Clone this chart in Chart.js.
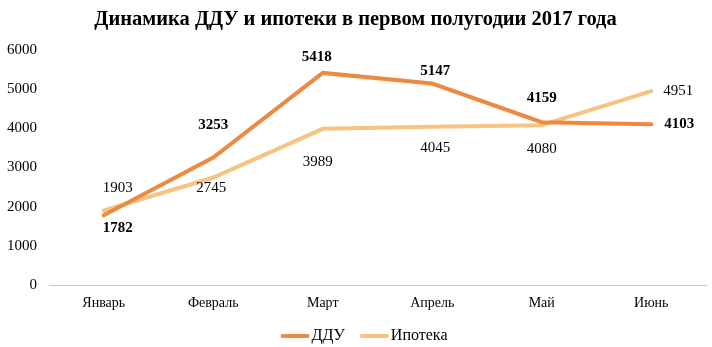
<!DOCTYPE html>
<html>
<head>
<meta charset="utf-8">
<script src="https://cdn.jsdelivr.net/npm/chart.js@4"></script>
<style>
html,body{margin:0;padding:0;background:#fff}
#wrap{width:712px;height:347px}
</style>
</head>
<body>
<div id="wrap"><canvas id="chart"></canvas></div>
<script>
const months = ["Январь","Февраль","Март","Апрель","Май","Июнь"]
const dduValues = [1782,3253,5418,5147,4159,4103]
const mortgageValues = [1903,2745,3989,4045,4080,4951]
const yTicks = [0,1000,2000,3000,4000,5000,6000]

// label offsets from each point (dx, dy), like the manual placement in the original
const dduLabelShift = [[14,13],[0,-33],[-6,-16],[3,-12],[0,-24],[28,0]]
const mortgageLabelShift = [[14,-22],[-2,11],[-5,33],[3,21],[0,24],[27,0]]

const serif = "'Liberation Serif','Times New Roman',serif"

const pointLabels = {
id:"pointLabels",
afterDatasetsDraw(chart){
const ctx = chart.ctx
chart.data.datasets.forEach((ds,i)=>{
const meta = chart.getDatasetMeta(i)
const shift = i===0 ? dduLabelShift : mortgageLabelShift
ctx.save()
ctx.font = (i===0 ? "bold " : "") + "15px " + serif
ctx.fillStyle = "#000"
ctx.textAlign = "center"
ctx.textBaseline = "middle"
meta.data.forEach((pt,j)=>{
ctx.fillText(ds.data[j], pt.x + shift[j][0], pt.y + shift[j][1])
})
ctx.restore()
})
}
}

// legend drawn by hand: line swatch right against the text, like Excel
const lineLegend = {
id:"lineLegend",
afterDraw(chart){
const ctx = chart.ctx
const sets = chart.data.datasets
const swatch = 29, gap = 2, spacing = 15, y = 336
ctx.save()
ctx.font = "16px " + serif
const widths = sets.map(ds=>swatch + gap + ctx.measureText(ds.label).width)
const total = widths.reduce((a,b)=>a+b,0) + spacing*(sets.length-1)
let x = 364 - total/2
sets.forEach((ds,i)=>{
ctx.strokeStyle = ds.borderColor
ctx.lineWidth = 4
ctx.lineCap = "round"
ctx.beginPath()
ctx.moveTo(x+2,y)
ctx.lineTo(x+swatch-2,y)
ctx.stroke()
ctx.fillStyle = "#000"
ctx.textAlign = "left"
ctx.textBaseline = "middle"
ctx.fillText(ds.label, x+swatch+gap, y)
x += widths[i] + spacing
})
ctx.restore()
}
}

new Chart(document.getElementById("chart"),{
type:"line",
data:{
labels:months,
datasets:[
{label:"ДДУ",data:dduValues,borderColor:"#ED8A41",backgroundColor:"#ED8A41",borderWidth:4,pointRadius:0,tension:0,borderCapStyle:"round"},
{label:"Ипотека",data:mortgageValues,borderColor:"#F5C382",backgroundColor:"#F5C382",borderWidth:4,pointRadius:0,tension:0,borderCapStyle:"round"}
]
},
options:{
responsive:true,
maintainAspectRatio:false,
animation:false,
layout:{padding:{top:7,right:6,left:5,bottom:24}},
plugins:{
title:{
display:true,
text:"Динамика ДДУ и ипотеки в первом полугодии 2017 года",
color:"#000",
font:{family:serif,size:20.5,weight:"bold"},
padding:{top:0,bottom:18.5}
},
legend:{display:false},
tooltip:{enabled:false}
},
scales:{
x:{
offset:true,
afterFit(scale){scale.height = 38},
grid:{display:false,drawTicks:false},
border:{display:true,color:"#c8c8c8",width:1},
ticks:{color:"#000",font:{family:serif,size:14},padding:10}
},
y:{
min:0,
max:6000,
afterBuildTicks(scale){scale.ticks = yTicks.map(v=>({value:v}))},
afterFit(scale){scale.width = 44},
grid:{display:false,drawTicks:false},
border:{display:false},
ticks:{color:"#000",font:{family:serif,size:15},padding:12,callback:v=>String(v)}
}
}
},
plugins:[pointLabels,lineLegend]
})
</script>
</body>
</html>
